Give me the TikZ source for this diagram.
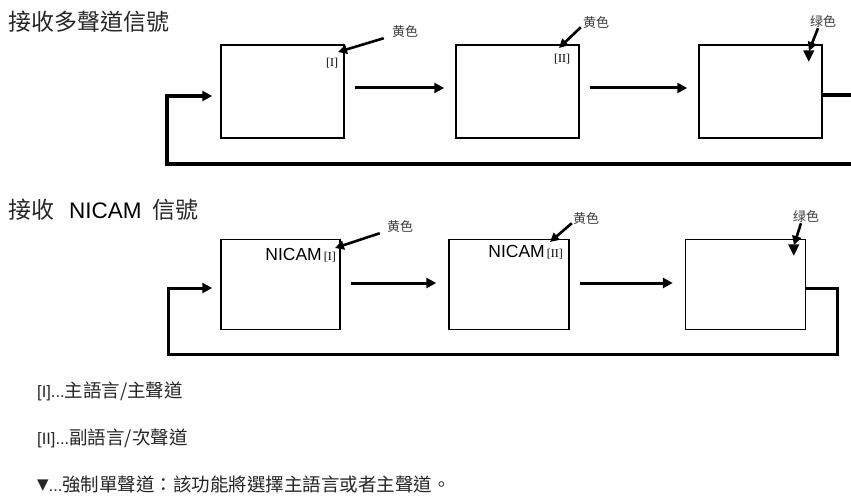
\documentclass[tikz,border=0pt]{standalone}
\usepackage{fontspec}
\setmainfont{Liberation Serif}
\setsansfont{Liberation Sans}
\newfontfamily\cjk{Noto Sans CJK TC}
\newfontfamily\symfont{DejaVu Sans}
\usetikzlibrary{arrows.meta, calc}
\definecolor{boxline}{HTML}{000000}
\definecolor{headtext}{HTML}{262626}
\definecolor{tagtext}{HTML}{3A3A3A}
\tikzset{
  chbox/.style   = {rectangle, draw=boxline, line width=1.4pt, fill=white,
                    minimum width=123pt, minimum height=93pt, inner sep=0pt},
  flow/.style    = {-{Triangle[length=10pt, width=10pt]}, line width=3pt, draw=boxline},
  loopline/.style= {-{Triangle[length=10pt, width=10pt]}, line width=3.4pt, draw=boxline},
  tagarrow/.style= {-{Triangle[length=9pt, width=9pt]}, line width=2.6pt, draw=boxline},
  colortag/.style= {font=\cjk\fontsize{13}{13}\selectfont, text=tagtext, inner sep=0pt},
  chtag/.style   = {font=\fontsize{12}{12}\selectfont, inner sep=0pt},
  monotag/.style = {font=\symfont\fontsize{15}{15}\selectfont, inner sep=0pt},
  headline/.style= {font=\cjk\fontsize{23}{23}\selectfont, text=headtext, anchor=west, inner sep=0pt},
  keytext/.style = {font=\cjk\fontsize{18.5}{18.5}\selectfont, text=headtext, anchor=west, inner sep=0pt},
}
\newcommand{\keylead}[1]{{\sffamily\fontsize{16.5}{16.5}\selectfont #1}}

\begin{document}
\begin{tikzpicture}[x=1pt, y=-1pt]
  \clip (0,0) rectangle (851,500);
  % multichannel row
  \node[headline] (t0) at (8,22) {接收多聲道信號};
  \node[chbox] (t1) at (282.5,91.5) {};
  \node[chbox] (t2) at (517.5,91.5) {};
  \node[chbox] (t3) at (760.5,91.5) {};
  \foreach \a/\b in {1/2,2/3}{\draw[flow, shorten <=10pt, shorten >=11pt] ([yshift=3.5pt]t\a.east) -- ([yshift=3.5pt]t\b.west);}
  \draw[loopline, shorten >=8pt] ([yshift=-3.5pt]t3.east) -- (880,95) |- (167,164) |- ([yshift=-4.5pt]t1.west);

  \node[colortag] (ty1) at (405,32) {黄色};
  \node[chtag] (ti1) at (332,63) {[I]};
  \coordinate (tp1) at (338,52);
  \draw[tagarrow] ([xshift=-8pt]ty1.south west) -- (tp1);
  \node[colortag] (ty2) at (596,23) {黄色};
  \node[chtag] (ti2) at (562,59) {[II]};
  \coordinate (tp2) at (559,48);
  \draw[tagarrow] ([xshift=-2pt,yshift=2pt]ty2.south west) -- (tp2);
  \node[colortag] (tg3) at (823,22) {绿色};
  \node[monotag] (tm3) at (809,57) {▼};
  \draw[tagarrow] ([xshift=-5pt]tg3.south) -- (tm3.north);

  % NICAM row
  \node[headline] (b0) at (8,210) {接收\hspace{15pt}{\sffamily\fontsize{22.5}{22.5}\selectfont\color{black}NICAM}\hspace{11pt}信號};
  \node[chbox, minimum width=119pt, minimum height=90pt] (b1) at (280.5,284.5) {};
  \node[chbox, minimum width=120pt, minimum height=90pt] (b2) at (509,284.5) {};
  \node[chbox, minimum width=120pt, minimum height=90pt] (b3) at (745.5,284.5) {};
  \foreach \a/\b in {1/2,2/3}{\draw[flow, shorten <=10pt, shorten >=12pt] ([yshift=1.5pt]b\a.east) -- ([yshift=1.5pt]b\b.west);}
  \draw[loopline, line width=3pt, shorten >=8pt] ([yshift=-3.5pt]b3.east) -- (837,288) |- (168,354) |- ([yshift=-3.5pt]b1.west);

  \node[colortag] (by1) at (400,227) {黄色};
  \node[chtag, anchor=east] (bi1) at (336,255) {{\sffamily\fontsize{17.5}{17.5}\selectfont NICAM}\,[I]};
  \coordinate (bp1) at (335,248);
  \draw[tagarrow] ([xshift=-7pt]by1.south west) -- (bp1);
  \node[colortag] (by2) at (586,219) {黄色};
  \node[chtag, anchor=east] (bi2) at (563,252) {{\sffamily\fontsize{17.5}{17.5}\selectfont NICAM}\,[II]};
  \coordinate (bp2) at (550,242);
  \draw[tagarrow] ([xshift=-1pt,yshift=2pt]by2.south west) -- (bp2);
  \node[colortag] (bg3) at (806,217) {绿色};
  \node[monotag] (bm3) at (794,251) {▼};
  \draw[tagarrow] ([xshift=-5pt]bg3.south) -- (bm3.north);

  % key
  \node[keytext] (k1) at (37,391) {\keylead{[I]...}主語言/主聲道};
  \node[keytext] (k2) at (37,438) {\keylead{[II]...}副語言/次聲道};
  \node[keytext] (k3) at (37,484) {\raisebox{1.5pt}{\symfont\fontsize{15}{15}\selectfont▼}\keylead{...}強制單聲道：該功能將選擇主語言或者主聲道。};
\end{tikzpicture}
\end{document}
